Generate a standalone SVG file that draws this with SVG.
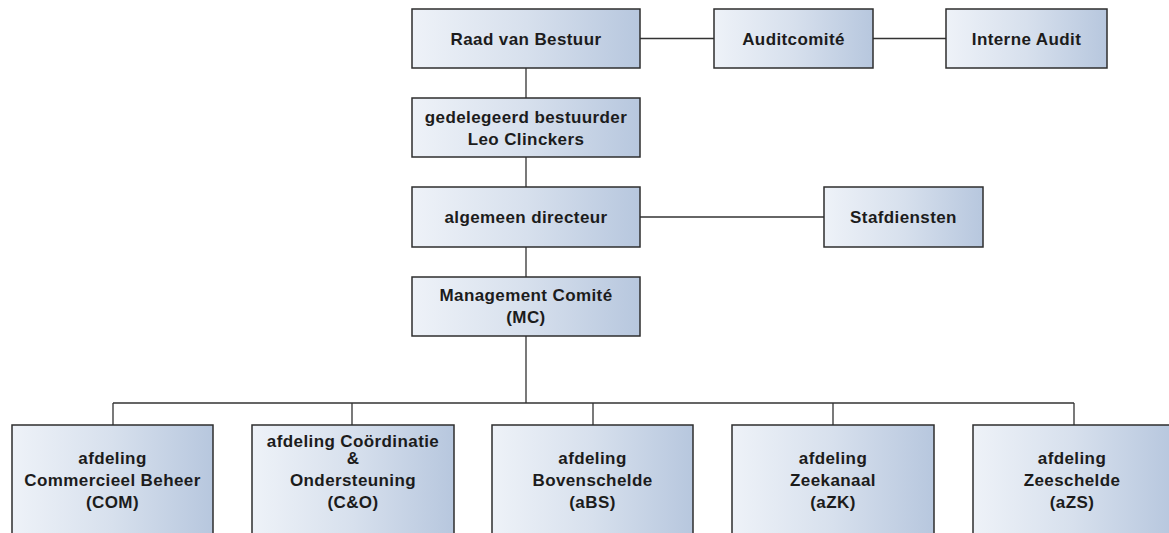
<svg xmlns="http://www.w3.org/2000/svg" width="1169" height="533" viewBox="0 0 1169 533">
<defs>
<linearGradient id="g" x1="0" y1="0" x2="1" y2="0">
<stop offset="0" stop-color="#eef2f8"/>
<stop offset="0.5" stop-color="#d7e0ed"/>
<stop offset="1" stop-color="#b7c7de"/>
</linearGradient>
<style>
.box{fill:url(#g);stroke:#2e2e2e;stroke-width:1.5}
.t{font-family:"Liberation Sans",Arial,sans-serif;font-weight:bold;font-size:17px;letter-spacing:0.4px;fill:#1c1c1c;text-anchor:middle}
.c{stroke:#333;stroke-width:1.3;fill:none}
</style>
</defs>
<rect width="1169" height="533" fill="#fff"/>
<g id="connectors" class="c">
<path d="M526 68V98M526 157V187M526 247V277M526 336V403"/>
<path d="M640 38.5H714M873 38.5H946"/>
<path d="M640 217H824"/>
<path d="M113 403H1074M113 403V425M352 403V425M593 403V425M833 403V425M1074 403V425"/>
</g>
<g id="raad"><rect class="box" x="412" y="9" width="228" height="59"/><text class="t" x="526" y="44.5">Raad van Bestuur</text></g>
<g id="audit"><rect class="box" x="714" y="9" width="159" height="59"/><text class="t" x="793.5" y="44.5">Auditcomité</text></g>
<g id="interne"><rect class="box" x="946" y="9" width="161" height="59"/><text class="t" x="1026.5" y="44.5">Interne Audit</text></g>
<g id="gedelegeerd"><rect class="box" x="412" y="98" width="228" height="59"/><text class="t" x="526" y="122.5">gedelegeerd bestuurder</text><text class="t" x="526" y="144.5">Leo Clinckers</text></g>
<g id="algemeen"><rect class="box" x="412" y="187" width="228" height="60"/><text class="t" x="526" y="223">algemeen directeur</text></g>
<g id="staf"><rect class="box" x="824" y="187" width="159" height="60"/><text class="t" x="903.5" y="223">Stafdiensten</text></g>
<g id="mc"><rect class="box" x="412" y="277" width="228" height="59"/><text class="t" x="526" y="301">Management Comité</text><text class="t" x="526" y="323">(MC)</text></g>
<g id="com"><rect class="box" x="12" y="425" width="201" height="120"/><text class="t" x="112.5" y="464">afdeling</text><text class="t" x="112.5" y="486">Commercieel Beheer</text><text class="t" x="112.5" y="508">(COM)</text></g>
<g id="co"><rect class="box" x="252" y="425" width="202" height="120"/><text class="t" x="353" y="447">afdeling Coördinatie</text><text class="t" x="353" y="464">&amp;</text><text class="t" x="353" y="486">Ondersteuning</text><text class="t" x="353" y="508">(C&amp;O)</text></g>
<g id="abs"><rect class="box" x="492" y="425" width="201" height="120"/><text class="t" x="592.5" y="464">afdeling</text><text class="t" x="592.5" y="486">Bovenschelde</text><text class="t" x="592.5" y="508">(aBS)</text></g>
<g id="azk"><rect class="box" x="732" y="425" width="202" height="120"/><text class="t" x="833" y="464">afdeling</text><text class="t" x="833" y="486">Zeekanaal</text><text class="t" x="833" y="508">(aZK)</text></g>
<g id="azs"><rect class="box" x="973" y="425" width="200" height="120"/><text class="t" x="1072" y="464">afdeling</text><text class="t" x="1072" y="486">Zeeschelde</text><text class="t" x="1072" y="508">(aZS)</text></g>
</svg>
